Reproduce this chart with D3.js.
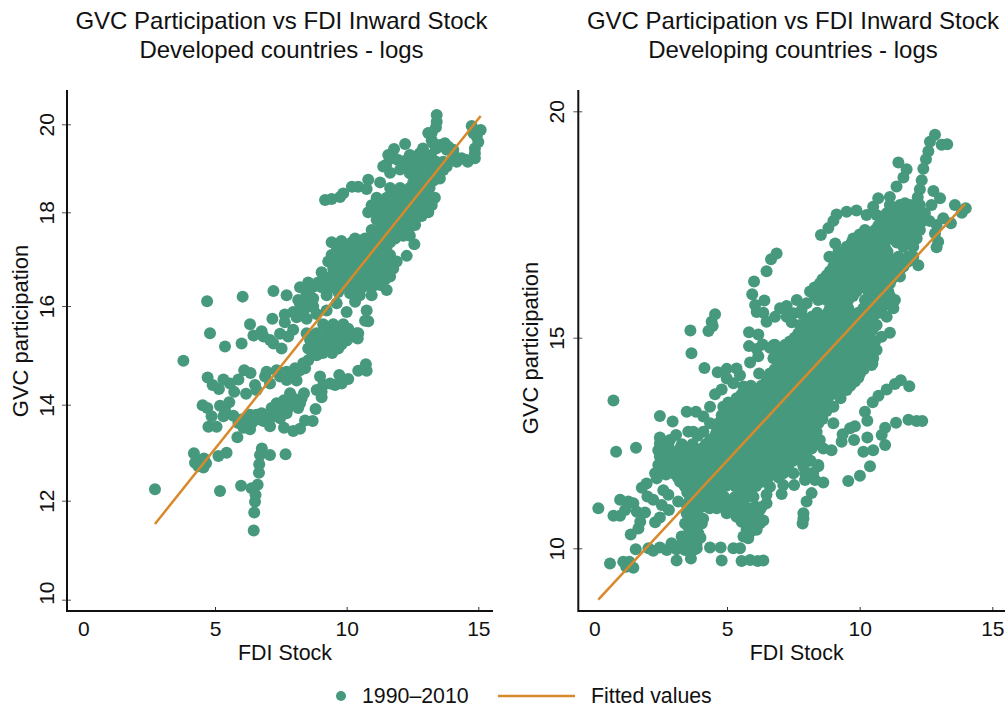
<!DOCTYPE html>
<html>
<head>
<meta charset="utf-8">
<script src="https://cdn.jsdelivr.net/npm/d3@7"></script>
<style>
    body { margin: 0; background: #fff; }
    text { font-family: "Liberation Sans", Arial, sans-serif; fill: #111; }
</style>
</head>
<body>
<div id="chart"></div>
<script>
// values, [fdi stock, gvc participation]
const developedPoints = [
    [13.42,20.21],[13.42,20.06],[13.39,19.93],[13.1,19.8],[13.23,19.64],[13.73,19.57],[13.4,19.45],[12.9,19.45],[12.22,19.55],[11.8,19.44],
    [11.58,19.3],[11.5,19.08],[11.65,18.9],[12.03,18.97],[11.96,19.19],[12.4,19.3],[12.78,19.34],[13.2,19.3],[13.8,19.42],[14.05,19.42],
    [14.1,19.27],[14.56,19.19],[14.87,19.23],[14.87,19.45],[14.94,19.72],[15.09,19.87],[14.75,19.96],[13.67,19.15],[13.54,18.77],[13.04,19.08],[12.4,18.89],
    [12.28,19.19],[12.66,19.27],[13.04,19.23],[13.4,19.15],[13.8,19.04],[14.18,19.15],[12.66,19.04],[13.04,18.89],[13.42,18.96],[12.53,18.68],[12.9,18.68],[13.3,18.72],
    [11.77,19.23],[11.39,19.04],[13.23,19.8],[13.29,19.57],[13.54,19.53],[13.86,19.49],[14.81,19.8],[15,19.6],[14.87,19.34],[14.37,19.23],[14.6,19.15],
    [12.4,19.12],[12.8,19.12],[13.2,19.12],[12.3,19.0],[12.9,19.0],[13.3,19.0],[12.7,18.8],[13.3,18.8],[13.67,18.96],[14.05,19.19],
    [9.18,18.28],[9.43,18.3],[9.75,18.35],[9.87,18.43],[10.2,18.58],[10.44,18.58],[10.76,18.53],[10.82,18.74],[11.27,18.68],
    [12.6,17.73],[12.4,17.5],[12.15,17.5],[9.43,17.36],[9.8,17.39],[12.57,17.32],[12.28,17.07],[9.05,16.72],[11.52,16.34],[11.27,16.45],
    [8.23,16.4],[7.22,16.32],[7.72,16.23],[6.05,16.2],[4.7,16.1],[8.16,16.13],[8.48,16.27],[8.73,16.16],[9.24,16.23],[9.68,16.3],
    [10.13,16.27],[10.5,16.23],[10.95,16.23],[10,15.88],[10.32,16.09],[10.76,15.91],[10.7,15.7],[10.82,15.69],[10.44,15.45],
    [8.35,16.13],[8.23,16.05],[8.35,15.88],[8.73,15.99],
    [7.97,15.88],[7.65,15.83],[7.18,15.74],[6.33,15.63],[7.65,15.67],[8.23,15.91],[8.61,15.99],[8.1,15.77],[8.48,15.74],[8.86,15.84],[9.24,15.91],[9.62,16.06],
    [4.81,15.45],[5.38,15.18],[6.01,15.24],[6.46,15.4],[6.77,15.49],[6.84,15.38],[7.09,15.31],[7.22,15.24],[7.53,15.14],[7.47,15.44],[7.78,15.38],[7.97,15.52],
    [8.86,15.0],[10,15.3],[10.42,15.34],[3.8,14.89],
    [6.11,14.7],[6.35,14.64],[6.96,14.67],[7.34,14.7],[7.72,14.67],[8.04,14.74],[8.35,14.84],[8.54,14.9],[8.42,14.74],[8.1,14.49],[7.85,14.55],[7.47,14.57],
    [7.57,14.64],[7.97,14.64],[8.23,14.7],[7.72,14.5],
    [7.09,14.43],[6.9,14.57],[6.52,14.4],[6.58,14.3],[5.89,14.51],[5.57,14.43],[5.32,14.51],[4.72,14.55],[4.91,14.4],[5.15,14.32],[5.73,14.26],[6.18,14.22],
    [5.54,14.05],[5.19,13.98],[4.53,13.99],[4.71,13.93],[4.87,13.76],[5.32,13.76],[4.75,13.54],[5.06,13.54],[5.38,13.89],[5.7,13.77],
    [6.01,13.69],[6.33,13.79],[6.4,13.62],[6.08,13.52],[6.33,13.49],[6.77,13.82],[6.84,13.66],[7.09,13.55],[7.09,13.72],[7.15,13.93],[7.34,14.03],[7.62,14.09],
    [6.58,13.69],[6.2,13.66],[6.58,13.79],[5.89,13.62],[6.84,13.75],[7.34,13.86],[7.47,13.72],[7.91,14.16],[7.72,13.99],[8.23,14.03],
    [7.85,14.23],[7.41,13.79],[7.72,13.82],[7.53,13.93],[7.78,13.93],[7.62,13.52],[7.97,13.45],[8.23,13.5],[8.42,13.67],[8.71,13.66],[8.82,13.91],[8.16,13.93],
    [8.1,14.03],[8.29,14.13],[8.38,14.23],[8.86,14.3],[9.05,14.15],[8.99,14.57],[9.11,14.4],[9.05,14.26],[9.37,14.43],[9.56,14.4],[9.81,14.43],[10.06,14.52],
    [9.72,14.6],[10.44,14.69],[10.73,14.82],[10.76,14.69],
    [5.85,13.32],[5.13,12.93],[5.44,13.0],[4.2,12.99],[4.24,12.79],[4.43,12.81],[4.58,12.88],[4.66,12.78],[4.56,12.69],[4.37,12.72],
    [6.78,13.09],[6.71,12.95],[7.09,12.95],[7.68,12.97],[6.68,12.76],[6.67,12.58],[6.62,12.33],[5.99,12.31],[6.39,12.26],[6.54,12.12],[6.52,11.98],[6.49,11.76],[6.47,11.4],
    [5.19,12.2],[2.72,12.24]
];
// dense part of the cloud, one row per y: [y, x, x, ...]
const developedRows = [
    [18.55,11.65,12.03,12.4,12.78,13.15],
    [18.44,11.83,12.2,12.6,12.97],
    [18.33,11.14,11.52,11.9,12.28,12.66,13.04,13.35],
    [18.25,11.33,11.7,12.09,12.47,12.85,13.23],
    [18.16,10.95,11.33,11.7,12.09,12.47,12.85,13.23],
    [18.08,11.14,11.52,11.9,12.28,12.66,13.04],
    [18.0,10.82,11.14,11.52,11.9,12.28,12.66,13.1],
    [17.92,11.33,11.7,12.09,12.47,12.85],
    [17.84,11.14,11.52,11.9,12.28,12.6],
    [17.73,11.33,11.7,12.09,12.45],
    [17.62,10.95,11.27,11.65,12.03,12.34],
    [17.53,11.46,11.84,12.2],
    [17.44,10.32,10.7,11.08,11.46,11.84],
    [17.36,10.2,10.5,10.9,11.27,11.65],
    [17.27,9.62,10,10.38,10.76,11.14,11.52],
    [17.18,9.8,10.19,10.57,10.95,11.33],
    [17.09,9.43,9.8,10.19,10.57,10.95,11.33,11.65],
    [17.02,9.62,10,10.38,10.76,11.14,11.52],
    [16.95,9.3,9.68,10.06,10.44,10.82,11.2,11.58,11.9],
    [16.88,9.49,9.87,10.25,10.63,11,11.39,11.77],
    [16.8,9.49,9.87,10.25,10.63,11.0,11.39,11.77],
    [16.72,9.62,10,10.38,10.76,11.14,11.52],
    [16.63,9.43,9.8,10.19,10.57,10.95,11.33,11.65],
    [16.56,9.3,9.62,10,10.38,10.76,11.14,11.45],
    [16.5,8.54,8.92,9.24,10.57,10.95],
    [16.4,8.7,9.05,9.4,9.8,10.2,10.6,10.95],
    [15.63,9.11,9.49,9.87],
    [15.54,9.3,9.68,10.06],
    [15.45,8.48,8.86,9.24,9.62,10,10.38],
    [15.38,8.67,9.05,9.43,9.81,10.2],
    [15.31,8.61,8.99,9.37,9.75,10],
    [15.22,8.73,9.11,9.49,9.8],
    [15.14,8.54,8.92,9.3,9.62,9.68],
    [15.05,8.7,9.1,9.45]
];
const developingPoints = [
    [12.84,19.48],[12.65,19.33],[13.09,19.26],[13.3,19.27],[12.59,19.12],[12.5,18.94],[12.4,18.73],[12.34,18.48],[12.27,18.28],[12.19,18.1],
    [11.46,18.87],[11.77,18.72],[11.65,18.54],[11.39,18.34],[12.78,18.24],[13.03,18.08],[12.71,17.93],[13.59,17.93],[14.0,17.86],[13.85,17.76],
    [13.15,17.64],[13.44,17.53],[12.63,17.58],[12.9,17.49],[12.84,17.3],[12.96,17.12],[12.9,17.0],[12.21,16.6],[12.02,16.79],[11.52,16.35],
    [8.54,17.27],[8.82,17.42],[9.01,17.58],[9.13,17.72],[9.51,17.78],[9.88,17.81],[10.26,17.71],[10.64,17.71],[10.51,17.89],[10.7,18.08],[11.14,18.11],[11.71,17.97],
    [9.08,17.08],[6.87,16.86],[6.66,16.73],[6.49,16.47],[6.02,16.24],[5.95,15.96],[6.41,15.82],[6.06,15.72],[6.12,15.57],[6.37,15.55],[6.49,15.35],[6.81,15.46],
    [7.0,15.65],[7.25,15.7],[7.63,15.83],[8.0,15.76],[7.81,15.61],[7.5,15.54],[7.25,15.46],[7.44,15.34],[7.79,15.54],
    [4.55,15.52],[4.42,15.35],[4.46,15.26],[4.3,15.15],[3.62,15.16],[3.66,14.63],[5.83,15.12],[6.18,15.07],[5.83,14.8],[6.12,14.73],[6.34,14.84],[6.75,14.82],
    [10.83,15.02],[11.14,15.11],[10.58,14.91],
    [4.15,14.28],[4.65,14.18],[4.99,14.26],[5.36,14.27],[5.49,14.11],[6.18,14.56],[5.87,14.41],[6.21,14.15],[4.99,14.03],[5.24,13.92],[0.72,13.51],[4.8,13.77],[4.55,13.66],[5.62,13.84],
    [4.36,13.36],[3.48,13.24],[3.83,13.24],[4.11,13.13],[4.36,12.97],
    [8.63,11.56],[9.57,11.6],[10.01,11.72],[10.39,11.95],[8.94,12.33],[10.14,12.29],[10.51,12.33],[10.29,12.63],[10.96,12.45],[10.83,12.69],[10.96,12.86],
    [11.37,12.98],[11.84,13.05],[12.15,13.02],[12.36,13.02],[10.29,13.03],[10.2,13.24],[9.82,12.9],[9.64,12.85],[9.36,12.71],[9.32,12.53],[9.79,12.57],
    [10.49,13.47],[10.71,13.62],[11.02,13.77],[11.33,13.9],[11.55,13.99],[11.87,13.85],[10.48,14.39],
    [2.47,13.14],[2.95,13.01],[3.08,12.69],[2.47,12.63],[2.47,12.49],[0.82,12.29],[1.57,12.39],[2.41,12.33],
    [2.5,12.57],[2.85,12.57],[2.5,12.4],[2.8,12.4],[2.5,11.85],[2.9,11.85],[2.7,11.75],
    [1.97,11.54],[1.79,11.44],[2.35,11.66],[2.6,11.38],[2.79,11.27],[3.16,11.11],[2.0,11.23],[2.22,11.15],[2.54,11.03],[2.81,10.91],
    [0.97,11.15],[1.28,11.11],[1.47,11.07],[0.15,10.95],[0.72,10.77],[0.97,10.77],[1.16,10.91],[1.6,10.87],[1.91,10.85],[1.73,10.63],[2.29,10.62],[2.47,10.73],
    [1.66,10.47],[1.37,10.33],[1.56,9.98],[2.04,10.0],[2.22,9.94],[2.47,10.02],[2.73,9.96],[2.91,10.12],[3.1,9.98],[3.42,9.96],[3.79,9.98],[4.36,10.02],[4.76,10.02],[5.24,10.0],[5.49,10.0],
    [0.59,9.64],[1.09,9.68],[1.32,9.68],[1.2,9.56],[1.47,9.54],[3.1,9.71],[3.64,9.76],[4.8,9.71],[5.55,9.7],[5.87,9.72],[6.16,9.7],[6.37,9.71],
    [6.62,11.46],[6.49,11.27],[7.12,11.5],[7.06,11.29],[7.53,11.5],[7.94,11.62],[8.19,11.78],[7.88,11.94],[8.44,11.95],[8.32,11.62],[8.19,11.31],[8.0,11.11],
    [7.88,10.83],[7.88,10.71],[7.85,10.59],
    [3.73,11.23],[4.11,11.23],[4.49,11.15],[4.86,11.07],[5.24,11.07],[5.62,11.07],[3.48,11.03],[3.86,11.03],[4.23,10.99],[4.61,10.95],[4.99,10.83],[5.49,10.91],
    [3.48,10.83],[3.86,10.79],[3.42,10.59],[3.73,10.59],[4.05,10.59],[3.29,10.28],[3.61,10.4],[3.92,10.36],[3.67,10.2],[3.86,10.0],[3.48,10.04],
    [5.93,10.95],[6.49,11.07],[6.24,10.91],[6.37,10.66],[6.05,10.55],[5.55,10.63],[5.74,10.44],[6.12,10.44],[5.8,10.24],[5.93,10.71],[5.36,10.75],[5.62,10.28]
];
const developingRows = [
    [17.93,11.14,11.52,11.9,12.27],
    [17.84,11.33,11.7,12.08],
    [17.75,11.02,11.39,11.77,12.14,12.46],
    [17.65,11.2,11.58,11.95,12.3],
    [17.56,10.89,11.27,11.65,12.02,12.34],
    [17.47,10.7,11.08,11.46,11.83,12.2],
    [17.38,10.2,10.58,10.96,11.33,11.71,12.08,12.27],
    [17.28,10.0,10.33,10.7,11.08,11.46,11.95],
    [17.19,9.76,10.14,10.45,10.83,11.2,11.71,12.15],
    [17.1,9.7,10.07,10.45,10.83,11.4,11.85],
    [17.01,9.51,9.88,10.26,10.64,10.95,11.65,12.02],
    [16.9,9.2,9.57,9.95,10.33,10.7,11.05],
    [16.79,8.86,9.2,9.57,9.95,10.33,10.7,11.08,11.46,11.83],
    [16.68,9.2,9.57,9.95,10.33,10.7,11.08,11.46,11.83],
    [16.57,9.01,9.38,9.76,10.14,10.51,10.89,11.27,11.65],
    [16.47,8.88,9.26,9.63,10.01,10.39,10.77,11.14,11.5],
    [16.38,8.76,9.13,9.51,9.88,10.26,10.64,11.02,11.39],
    [16.29,8.6,8.97,9.35,9.75,10.1,10.45,10.83,11.2],
    [16.2,8.5,8.88,9.26,9.63,9.95,10.39,10.77,11.14],
    [16.11,8.3,8.7,9.07,9.45,9.8,10.2,10.55,10.9],
    [16.02,8.13,8.5,8.88,9.26,9.63,9.88,10.33,10.7,11.08],
    [15.92,8.3,8.6,9.0,9.4,9.75,10.39,10.77,11.14],
    [15.83,8.44,8.76,9.26,9.57,10.2,10.58,10.96,11.33],
    [15.74,9.05,9.4,10.3,10.65,11.05],
    [15.65,8.88,9.26,9.57,10.14,10.45,10.83,11.27],
    [15.55,8.4,8.8,9.2,9.57,9.95,10.33,10.75],
    [15.46,8.19,8.63,9.01,9.38,9.76,10.14,10.51,11.02],
    [15.37,8.0,8.5,8.9,9.3,9.7,10.07,10.45],
    [15.28,7.75,8.38,8.76,9.13,9.51,9.88,10.26,10.64],
    [15.19,7.9,8.3,8.7,9.07,9.45,9.8,10.2,10.5],
    [15.1,7.69,8.13,8.5,8.88,9.26,9.63,10.01,10.39],
    [15.0,7.55,7.95,8.3,8.7,9.07,9.45,9.8,10.2],
    [14.91,7.37,7.75,8.13,8.5,8.88,9.26,9.63,10.01],
    [14.83,6.8,7.2,7.55,7.95,8.3,8.7,9.07,9.45,9.8,10.2],
    [14.76,6.62,7.0,7.37,7.75,8.13,8.5,8.88,9.26,9.63,10.01,10.33],
    [14.71,6.87,7.25,7.62,8.0,8.38,8.75,9.13,9.51,9.89,10.26,10.64],
    [14.61,7.05,7.45,7.8,8.2,8.55,8.95,9.3,9.7,10.1,10.45],
    [14.51,6.75,7.12,7.5,7.88,8.25,8.63,9.01,9.38,9.76,10.14,10.51],
    [14.43,7.2,7.55,7.95,8.3,8.7,9.07,9.45,9.8,10.25],
    [14.35,7.0,7.37,7.75,8.13,8.5,8.88,9.26,9.63,10.01,10.45],
    [14.25,6.8,7.2,7.55,7.95,8.3,8.7,9.07,9.45,9.8,10.15],
    [14.15,6.62,7.0,7.37,7.75,8.13,8.5,8.88,9.26,9.63,10.01],
    [14.05,6.7,7.05,7.45,7.85,8.2,8.55,8.95,9.3,9.7,9.95],
    [13.96,6.49,6.87,7.25,7.62,8.0,8.38,8.75,9.13,9.51,9.82],
    [13.86,5.9,6.3,6.7,7.05,7.45,7.8,8.2,8.55,8.95,9.3,9.65],
    [13.76,5.74,6.12,6.49,6.87,7.25,7.62,8.0,8.38,8.75,9.13,9.51],
    [13.66,5.55,5.95,6.3,6.7,7.05,7.45,7.8,8.2,8.55,8.95],
    [13.56,5.36,5.74,6.12,6.49,6.87,7.25,7.62,8.0,8.38,8.75,9.28],
    [13.46,5.05,5.45,5.8,6.2,6.55,6.95,7.3,7.7,8.05,8.45,8.8],
    [13.36,4.86,5.24,5.62,6.0,6.37,6.75,7.12,7.5,7.88,8.25,8.63,9.01],
    [13.26,5.0,5.35,5.75,6.1,6.5,6.85,7.25,7.6,8.0,8.4,8.75],
    [13.16,4.8,5.17,5.55,5.93,6.3,6.68,7.05,7.43,7.81,8.19,8.57],
    [13.07,4.85,5.25,5.6,6.0,6.35,6.75,7.1,7.5,7.9,8.25,8.6],
    [12.97,4.67,5.05,5.43,5.8,6.18,6.56,6.93,7.31,7.69,8.07,8.44,9.01],
    [12.87,4.8,5.2,5.6,6.0,6.35,6.75,7.1,7.45,7.8,8.2],
    [12.77,3.54,3.73,4.11,4.61,4.99,5.36,5.74,6.12,6.49,6.87,7.25,7.62,8.0,8.38],
    [12.67,3.9,4.55,4.9,5.3,5.65,6.05,6.4,6.8,7.2,7.55,7.9,8.3],
    [12.57,4.36,4.74,5.11,5.49,5.87,6.24,6.62,7.0,7.37,7.75,8.13,8.5],
    [12.47,3.3,3.7,4.2,4.55,4.95,5.3,5.7,6.05,6.45,6.85,7.2,7.6,8.0,8.35],
    [12.37,3.23,3.54,4.05,4.43,4.8,5.17,5.55,5.93,6.3,6.68,7.05,7.43,7.81,8.19,8.63],
    [12.28,2.65,3.05,3.4,3.8,4.2,4.55,4.95,5.3,5.7,6.05,6.45,6.8,7.2,7.55,8.0],
    [12.18,2.47,2.85,3.23,3.6,3.98,4.36,4.74,5.11,5.49,5.87,6.24,6.62,7.0,7.37,7.75],
    [12.08,2.6,3.0,3.35,3.75,4.1,4.5,4.85,5.25,5.6,6,6.35,6.75,7.1,7.5,8.15],
    [11.98,2.41,2.79,3.16,3.54,3.92,4.3,4.67,5.05,5.43,5.8,6.18,6.56,6.93,7.31,7.88,8.44],
    [11.88,2.6,3.15,3.55,3.9,4.3,4.65,5.05,5.4,5.8,6.2,6.55,6.95,7.3],
    [11.78,2.29,2.98,3.35,3.73,4.11,4.49,4.86,5.24,5.62,5.99,6.37,6.75,7.12,7.5,7.94,8.25],
    [11.68,3.15,3.55,3.9,4.3,4.7,5.05,5.45,5.8,6.2,6.55,6.95],
    [11.58,3.23,3.6,3.98,4.36,4.74,5.11,5.49,5.87,6.31],
    [11.48,3.4,3.8,4.15,4.55,4.95,5.3,5.7,6.1],
    [11.33,3.5,3.9,4.3,4.7,5.5,5.9],
    [11.22,4.9,5.3,5.7,6.0],
    [11.15,3.6,3.95,4.3],
    [10.98,5.15,5.7,6.1,6.3],
    [10.95,3.6,3.95,4.35],
    [10.85,5.75,6.1],
    [10.7,3.55,3.85,4.1],
    [10.6,5.7,5.95,6.25],
    [10.5,3.55,3.85],
    [10.4,5.9],
    [10.25,3.5,3.8,4.0],
    [10.1,3.3,3.6,3.85]
];
const developedFit = [[2.72,11.53],[15.09,20.19]];
const developingFit = [[0.15,8.78],[13.97,17.95]];
const xTickValues = [0,5,10,15];
const developedYTicks = [10,12,14,16,18,20];
const developingYTicks = [10,15,20];
const titleLine1 = "GVC Participation vs FDI Inward Stock";
const legendLabels = ["1990–2010","Fitted values"];

const green = "#46997d", orange = "#d8892b";

const expandRows = rows => rows.flatMap(([y, ...xs]) => xs.map(x => [x, y]));

const svg = d3.select("#chart").append("svg")
    .attr("width", 1007)
    .attr("height", 711);

const panels = [
    {
        subtitle: "Developed countries - logs", titleX: 281.5, axisX: 67, axisEnd: 493, yTitleX: 28, yTitleY: 331, yLabelX: 54,
        points: developedPoints.concat(expandRows(developedRows)), fit: developedFit, yTicks: developedYTicks,
        x: d3.scaleLinear().domain([5, 15]).range([215, 478.3]),
        // the printed y axis is not evenly spaced, so each tick gets its own stop
        y: d3.scaleLinear().domain([10, 12, 14, 16, 18, 20]).range([599.7, 500.7, 404.7, 306, 212.3, 124.3]),
        nudge: { 10: -7 }
    },
    {
        subtitle: "Developing countries - logs", titleX: 793, axisX: 578.3, axisEnd: 1005, yTitleX: 538, yTitleY: 348, yLabelX: 564,
        points: developingPoints.concat(expandRows(developingRows)), fit: developingFit, yTicks: developingYTicks,
        x: d3.scaleLinear().domain([5, 15]).range([727, 992.3]),
        y: d3.scaleLinear().domain([10, 15, 20]).range([548.3, 337.7, 111.3]),
        nudge: {}
    }
];

const baseline = 611;

panels.forEach(p => {
    const g = svg.append("g");

    // titles
    g.selectAll(".title")
        .data([titleLine1, p.subtitle])
        .enter()
        .append("text")
        .attr("x", p.titleX)
        .attr("y", (d, i) => 29 + i * 28.5)
        .attr("text-anchor", "middle")
        .style("font-size", "24px")
        .text(d => d);

    g.selectAll(".dot")
        .data(p.points)
        .enter()
        .append("circle")
        .attr("cx", d => p.x(d[0]))
        .attr("cy", d => p.y(d[1]))
        .attr("r", 6)
        .attr("fill", green);

    g.append("line")
        .attr("x1", p.x(p.fit[0][0])).attr("y1", p.y(p.fit[0][1]))
        .attr("x2", p.x(p.fit[1][0])).attr("y2", p.y(p.fit[1][1]))
        .attr("stroke", orange)
        .attr("stroke-width", 2.5);

    // x axis
    const xAxis = g.append("g")
        .attr("transform", `translate(0,${baseline})`)
        .call(d3.axisBottom(p.x).tickValues(xTickValues).tickSize(0).tickPadding(10));
    xAxis.select(".domain").remove();
    xAxis.selectAll(".tick line")
        .attr("y1", d => d === 0 ? 0 : -4)
        .attr("y2", 0)
        .attr("stroke", "#333");
    xAxis.selectAll("text").style("font-size", "21px").attr("fill", "#111");

    // y axis, labels stand on their side
    const yAxis = g.append("g")
        .attr("transform", `translate(${p.axisX},0)`)
        .call(d3.axisLeft(p.y).tickValues(p.yTicks).tickSize(0));
    yAxis.select(".domain").remove();
    yAxis.selectAll(".tick line")
        .attr("x1", -5)
        .attr("x2", 4)
        .attr("stroke", "#555");
    yAxis.selectAll("text")
        .attr("x", null).attr("dy", null)
        .attr("transform", d => `translate(${p.yLabelX - p.axisX},${p.nudge[d] || 0}) rotate(-90)`)
        .attr("text-anchor", "middle")
        .attr("fill", "#111")
        .style("font-size", "21px");

    g.append("line")
        .attr("x1", p.axisX).attr("x2", p.axisX)
        .attr("y1", 90).attr("y2", baseline + 1)
        .attr("stroke", "#111").attr("stroke-width", 2);
    g.append("line")
        .attr("x1", p.axisX).attr("x2", p.axisEnd)
        .attr("y1", baseline).attr("y2", baseline)
        .attr("stroke", "#111").attr("stroke-width", 2);

    g.append("text")
        .attr("x", (p.axisX + p.axisEnd) / 2 + 5)
        .attr("y", 660)
        .attr("text-anchor", "middle")
        .style("font-size", "21.4px")
        .text("FDI Stock");

    g.append("text")
        .attr("transform", `translate(${p.yTitleX},${p.yTitleY}) rotate(-90)`)
        .attr("text-anchor", "middle")
        .style("font-size", "22px")
        .text("GVC participation");
});

// legend
const legend = svg.append("g");
legend.append("circle").attr("cx", 341).attr("cy", 696).attr("r", 5).attr("fill", green);
legend.append("line").attr("x1", 498).attr("x2", 575).attr("y1", 696).attr("y2", 696)
    .attr("stroke", orange).attr("stroke-width", 2.5);
legend.selectAll(".lab")
    .data(legendLabels)
    .enter()
    .append("text")
    .attr("x", (d, i) => i === 0 ? 362 : 591)
    .attr("y", 703)
    .style("font-size", "21.3px")
    .text(d => d);
</script>
</body>
</html>
